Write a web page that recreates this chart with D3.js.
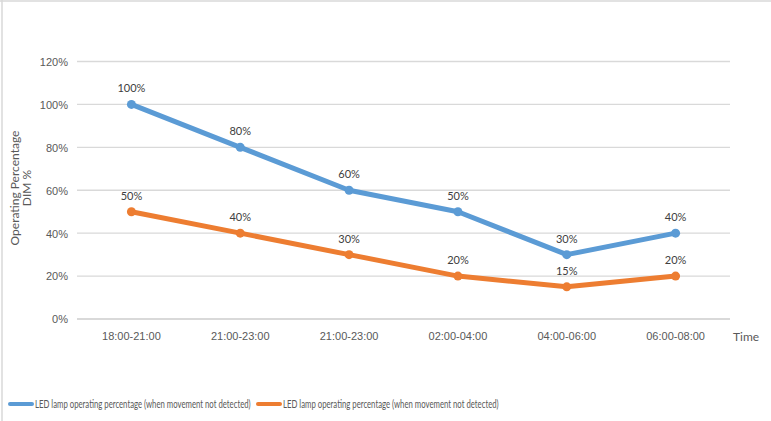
<!DOCTYPE html>
<html><head><meta charset="utf-8">
<script src="https://cdn.jsdelivr.net/npm/d3@7"></script>
<style>body{margin:0;background:#fff}svg{display:block;font-family:Lato,"Open Sans",sans-serif}</style>
</head><body><svg id="c" width="771" height="421"></svg>
<script>
const categories = ["18:00-21:00","21:00-23:00","21:00-23:00","02:00-04:00","04:00-06:00","06:00-08:00"];
const seriesNames = ["LED lamp operating percentage (when movement not detected)","LED lamp operating percentage (when movement not detected)"];
const blueValues = [100, 80, 60, 50, 30, 40];
const orangeValues = [50, 40, 30, 20, 15, 20];
const yTicks = [0, 20, 40, 60, 80, 100, 120];
const colors = ["#5B9BD5", "#ED7D31"];

const svg = d3.select("#c");
// border
svg.append("line").attr("x1",0).attr("x2",771).attr("y1",1).attr("y2",1).attr("stroke","#D9D9D9").attr("stroke-width",1.5);
svg.append("line").attr("x1",2).attr("x2",2).attr("y1",0).attr("y2",421).attr("stroke","#D9D9D9").attr("stroke-width",1.5);

const x = d3.scaleBand().domain(d3.range(categories.length)).range([77, 730]);
const y = d3.scaleLinear().domain([0, 120]).range([319, 61.5]);
const cx = i => x(i) + x.bandwidth()/2;

// gridlines
svg.append("g").selectAll("line").data(yTicks).join("line")
  .attr("x1",77).attr("x2",730).attr("y1",d=>y(d)).attr("y2",d=>y(d))
  .attr("stroke","#D9D9D9").attr("stroke-width",d=>d===0?2:1.3);

// y axis
const ya = svg.append("g").attr("transform","translate(68,0)")
  .call(d3.axisLeft(y).tickValues(yTicks).tickFormat(d=>d+"%").tickSize(0).tickPadding(0));
ya.select(".domain").remove();
ya.selectAll("text").attr("fill","#595959").attr("font-size","11px").attr("dy","0.35em");

// x axis
const xa = svg.append("g").attr("transform","translate(0,319)")
  .call(d3.axisBottom(x).tickFormat(i=>categories[i]).tickSize(0).tickPadding(13));
xa.select(".domain").remove();
xa.selectAll("text").attr("fill","#595959").attr("font-size","11px");

svg.append("text").attr("x",733).attr("y",341).attr("fill","#595959").attr("font-size","12px").text("Time");

// y title
const yt = svg.append("text").attr("transform","translate(19,188) rotate(-90)")
  .attr("text-anchor","middle").attr("fill","#595959").attr("font-size","12px");
yt.append("tspan").attr("x",0).attr("dy",0).text("Operating Percentage");
yt.append("tspan").attr("x",0).attr("dy",12).text("DIM %");

const line = d3.line().x((d,i)=>cx(i)).y(d=>y(d));
[blueValues, orangeValues].forEach((vals, s) => {
  const g = svg.append("g");
  g.append("path").datum(vals).attr("d", line).attr("fill","none")
    .attr("stroke", colors[s]).attr("stroke-width",5).attr("stroke-linejoin","round");
  g.selectAll("circle").data(vals).join("circle")
    .attr("cx",(d,i)=>cx(i)).attr("cy",d=>y(d)).attr("r",4.5).attr("fill",colors[s]);
  g.selectAll("text").data(vals).join("text")
    .attr("x",(d,i)=>cx(i)).attr("y",d=>y(d)-12).attr("text-anchor","middle")
    .attr("fill","#404040").attr("font-size","11px").text(d=>d+"%");
});

// legend
const lx = [10, 258];
seriesNames.forEach((n, s) => {
  svg.append("line").attr("x1",lx[s]).attr("x2",lx[s]+22).attr("y1",404).attr("y2",404)
    .attr("stroke",colors[s]).attr("stroke-width",4).attr("stroke-linecap","round");
  const t = svg.append("text").attr("x",0).attr("y",0).attr("fill","#595959")
    .attr("font-size","12px").text(n);
  const w = t.node().getComputedTextLength();
  const k = 216 / w;
  t.attr("transform", `translate(${lx[s]+25},408) scale(${k},1)`);
});
</script></body></html>
